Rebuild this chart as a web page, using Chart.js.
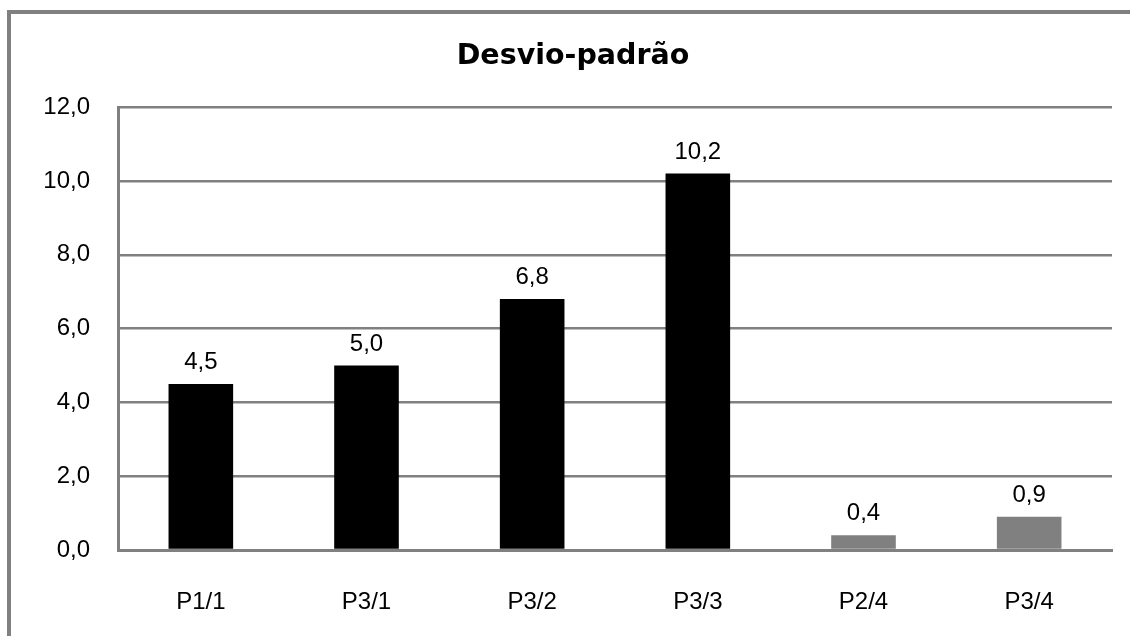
<!DOCTYPE html>
<html>
<head>
<meta charset="utf-8">
<title>Desvio-padrão</title>
<script src="https://cdn.jsdelivr.net/npm/chart.js@4"></script>
<style>
  html, body { margin: 0; padding: 0; background: #ffffff; }
  #wrap { position: relative; width: 1130px; height: 636px; overflow: hidden; }
  canvas { display: block; }
</style>
</head>
<body>
<div id="wrap"><canvas id="chart" width="1130" height="636"></canvas></div>
<script>
// Standard deviation per sample group
const categories = ["P1/1", "P3/1", "P3/2", "P3/3", "P2/4", "P3/4"];
const stdDev = [4.5, 5.0, 6.8, 10.2, 0.4, 0.9];
const barColors = ["#000000", "#000000", "#000000", "#000000", "#808080", "#808080"];
const yTicks = [0, 2, 4, 6, 8, 10, 12];

const fmt = v => Number(v).toFixed(1).replace('.', ',');
const labelFont = "24px 'Liberation Sans', Arial, sans-serif";

// Outer frame around the chart
const framePlugin = {
  id: 'frame',
  beforeDraw(chart) {
    const ctx = chart.ctx;
    ctx.save();
    ctx.fillStyle = '#ffffff';
    ctx.fillRect(0, 0, chart.width, chart.height);
    ctx.strokeStyle = '#808080';
    ctx.lineWidth = 4;
    ctx.strokeRect(9, 12, 1300, 800);
    ctx.restore();
  }
};

// Value labels above each bar
const valueLabels = {
  id: 'valueLabels',
  afterDatasetsDraw(chart) {
    const ctx = chart.ctx;
    const meta = chart.getDatasetMeta(0);
    ctx.save();
    ctx.font = labelFont;
    ctx.fillStyle = '#000000';
    ctx.textAlign = 'center';
    ctx.textBaseline = 'alphabetic';
    meta.data.forEach((bar, i) => {
      ctx.fillText(fmt(chart.data.datasets[0].data[i]), bar.x, bar.y - 15);
    });
    ctx.restore();
  }
};

new Chart(document.getElementById('chart'), {
  type: 'bar',
  data: {
    labels: categories,
    datasets: [{
      data: stdDev,
      backgroundColor: barColors,
      borderWidth: 0,
      barPercentage: 0.39,
      categoryPercentage: 1.0
    }]
  },
  options: {
    responsive: false,
    animation: false,
    devicePixelRatio: 1,
    layout: { padding: { left: 34, right: 18, top: 0, bottom: 0 } },
    plugins: {
      legend: { display: false },
      tooltip: { enabled: false },
      title: {
        display: true,
        text: 'Desvio-padrão',
        color: '#000000',
        font: { family: "'DejaVu Sans', Verdana, sans-serif", size: 28.5, weight: 'bold', lineHeight: 1.2 },
        padding: { top: 39, bottom: 34 }
      }
    },
    scales: {
      x: {
        grid: { display: false, drawTicks: false },
        border: { display: true, color: '#808080', width: 3 },
        ticks: {
          color: '#000000',
          font: { family: "'Liberation Sans', Arial, sans-serif", size: 24 },
          padding: 38
        },
        afterFit(scale) { scale.height = 86; }
      },
      y: {
        min: 0,
        max: 12,
        afterBuildTicks(scale) { scale.ticks = yTicks.map(v => ({ value: v })); },
        grid: { color: '#808080', lineWidth: 2.5, drawTicks: false },
        border: { display: true, color: '#808080', width: 3 },
        ticks: {
          color: '#000000',
          font: { family: "'Liberation Sans', Arial, sans-serif", size: 24 },
          padding: 28,
          callback: v => fmt(v)
        },
        afterFit(scale) { scale.width = 84; }
      }
    }
  },
  plugins: [framePlugin, valueLabels]
});
</script>
</body>
</html>
